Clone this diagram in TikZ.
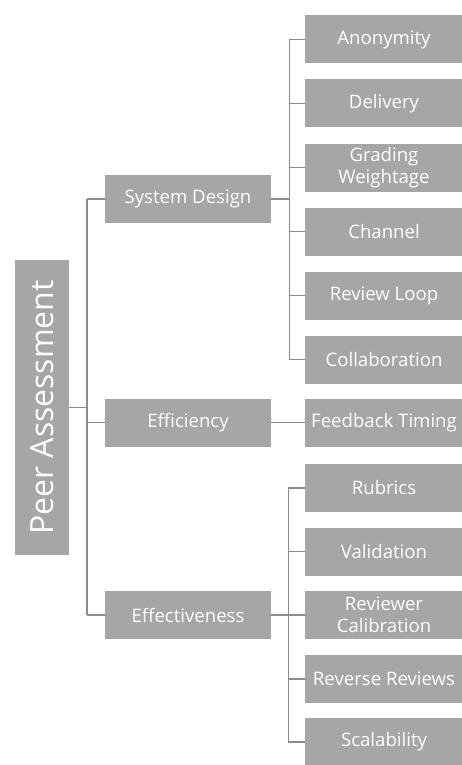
\documentclass[tikz,border=0pt]{standalone}
\usepackage{fontspec}
\setmainfont{Open Sans}
\begin{document}
\begin{tikzpicture}[x=1pt,y=-1pt,
  box/.style={draw=none,fill=boxgray,text=white,inner sep=0pt,align=center,
    font=\fontsize{18.6}{22.5}\selectfont},
  rootbox/.style={box,minimum width=295,minimum height=54,rotate=90,
    font=\fontsize{32}{36}\selectfont},
  midbox/.style={box,minimum width=166,minimum height=48},
  leafbox/.style={box,minimum width=158,minimum height=48},
  link/.style={draw=linegray,line width=1.4pt}]
\definecolor{boxgray}{HTML}{A6A6A6}
\definecolor{linegray}{HTML}{8C8C8C}
\useasboundingbox (0,0) rectangle (462,765);
\begin{scope}
\clip (0,0) rectangle (462,765);
% root
\node[rootbox] (root) at (42,407.5) {Peer Assessment};
% second level
\node[midbox] (sd)  at (188,199)   {System Design};
\node[midbox] (eff) at (188,422.5) {Efficiency};
\node[midbox] (eft) at (188,615)   {Effectiveness};
% leaves of System Design
\node[leafbox] (an) at (384,39.5)  {Anonymity};
\node[leafbox] (de) at (384,103.5) {Delivery};
\node[leafbox] (gw) at (384,167.5) {Grading\\Weightage};
\node[leafbox] (ch) at (384,231.5) {Channel};
\node[leafbox] (rl) at (384,295.5) {Review Loop};
\node[leafbox] (co) at (384,359.5) {Collaboration};
% leaf of Efficiency
\node[leafbox] (ft) at (384,422.5) {Feedback Timing};
% leaves of Effectiveness
\node[leafbox] (ru) at (384,488)   {Rubrics};
\node[leafbox] (va) at (384,551.5) {Validation};
\node[leafbox] (rc) at (384,615)   {Reviewer\\Calibration};
\node[leafbox] (rr) at (384,679)   {Reverse Reviews};
\node[leafbox] (sc) at (384,742)   {Scalability};
\end{scope}
% root to second level
\coordinate (b0) at (87,407.5);
\draw[link] (root.south) -- (b0);
\draw[link] (sd.west -| b0) -- (eft.west -| b0);
\foreach \n in {sd,eff,eft} \draw[link] (\n.west -| b0) -- (\n.west);
% System Design bus
\draw[link] (sd.east) -- ++(18,0) coordinate (b1);
\draw[link] (an.west -| b1) -- (co.west -| b1);
\foreach \n in {an,de,gw,ch,rl,co} \draw[link] (\n.west -| b1) -- (\n.west);
% Efficiency
\draw[link] (eff.east) -- (ft.west);
% Effectiveness bus
\draw[link] (eft.east) -- ++(17,0) coordinate (b2);
\draw[link] (ru.west -| b2) -- (sc.west -| b2);
\foreach \n in {ru,va,rc,rr,sc} \draw[link] (\n.west -| b2) -- (\n.west);
\end{tikzpicture}
\end{document}
